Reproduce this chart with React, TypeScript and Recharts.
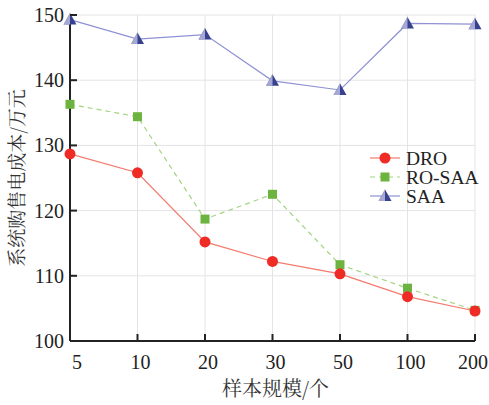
import { CartesianGrid, Legend, Line, LineChart, XAxis, YAxis } from 'recharts'

const sampleSizes = ['5', '10', '20', '30', '50', '100', '200']
const droCost = [128.7, 125.8, 115.2, 112.2, 110.3, 106.8, 104.6]
const roSaaCost = [136.3, 134.4, 118.7, 122.5, 111.7, 108.1, 104.7]
const saaCost = [149.3, 146.3, 147.0, 139.9, 138.5, 148.7, 148.6]
const yTicks = [100, 110, 120, 130, 140, 150]

const data = sampleSizes.map((n, i) => ({
    n,
    DRO: droCost[i],
    'RO-SAA': roSaaCost[i],
    SAA: saaCost[i],
}))

const SERIF = '"Liberation Serif", "DejaVu Serif", serif'
const CJK = '"Noto Serif CJK SC", "Noto Sans CJK SC", serif'

const COLORS = {
    dro: '#ee2b24',
    droLine: '#f47a6c',
    roSaa: '#6cb43f',
    roSaaLine: '#a3d483',
    saa: '#37418f',
    saaLine: '#8e92d2',
}

const Circle = (props: any) => {
    const { cx, cy } = props
    if (cx == null || cy == null) return null
    return <circle cx={cx} cy={cy} r={5.5} fill={COLORS.dro} />
}

const Square = (props: any) => {
    const { cx, cy } = props
    if (cx == null || cy == null) return null
    return <rect x={cx - 4.5} y={cy - 4.5} width={9} height={9} fill={COLORS.roSaa} />
}

const Triangle = (props: any) => {
    const { cx, cy } = props
    if (cx == null || cy == null) return null
    return (
        <g>
            <path d={`M${cx},${cy - 6.5} L${cx + 6.5},${cy + 5} L${cx - 6.5},${cy + 5} Z`} fill={COLORS.saa} />
            <path d={`M${cx},${cy - 6.5} L${cx},${cy + 5} L${cx - 6.5},${cy + 5} Z`} fill="#c9cbe8" opacity={0.75} />
        </g>
    )
}

const YTick = (props: any) => {
    const { x, y, payload } = props
    return (
        <g>
            <line x1={x} x2={x + 7} y1={y} y2={y} stroke="#222" strokeWidth={2} />
            <text x={x - 6} y={y} dy={7} textAnchor="end" style={{ fontFamily: SERIF, fontSize: 20 }} fill="#222">
                {payload.value}
            </text>
        </g>
    )
}

const XTick = (props: any) => {
    const { x, y, payload, index } = props
    // first label nudged right, last one pulled in so it stays on the page
    const shift = index === 0 ? 7 : index === sampleSizes.length - 1 ? -2 : 3
    return (
        <g>
            <line x1={x} x2={x} y1={y} y2={y - 7} stroke="#222" strokeWidth={2} />
            <text x={x + shift} y={y + 28} textAnchor="middle" style={{ fontFamily: SERIF, fontSize: 20 }} fill="#222">
                {payload.value}
            </text>
        </g>
    )
}

const YLabel = (props: any) => {
    const { viewBox } = props
    const x = viewBox.x + 17
    const y = viewBox.y + viewBox.height / 2
    return (
        <text x={x} y={y} transform={`rotate(-90 ${x} ${y})`} textAnchor="middle" dy={7} style={{ fontFamily: CJK, fontSize: 19 }} fill="#333">
            系统购售电成本/万元
        </text>
    )
}

const XLabel = (props: any) => {
    const { viewBox } = props
    const x = viewBox.x + viewBox.width / 2 + 3
    return (
        <text x={x} y={396} textAnchor="middle" style={{ fontFamily: CJK, fontSize: 20 }} fill="#333">
            样本规模/个
        </text>
    )
}

const legendRows = [
    { name: 'DRO', color: COLORS.droLine, dash: undefined, Mark: Circle },
    { name: 'RO-SAA', color: COLORS.roSaaLine, dash: '5 4', Mark: Square },
    { name: 'SAA', color: COLORS.saaLine, dash: undefined, Mark: Triangle },
]

const LegendBox = () => (
    <svg width={120} height={60} style={{ display: 'block' }}>
        {legendRows.map((r, i) => {
            const y = 10 + i * 19
            return (
                <g key={r.name}>
                    <line x1={4} x2={34} y1={y} y2={y} stroke={r.color} strokeWidth={1.2} strokeDasharray={r.dash} />
                    <r.Mark cx={19} cy={y} />
                    <text x={40} y={y} dy={6.5} style={{ fontFamily: SERIF, fontSize: 19.5 }} fill="#222">
                        {r.name}
                    </text>
                </g>
            )
        })}
    </svg>
)

export default function App() {
    return (
        <div style={{ position: 'absolute', left: 0, top: 0, width: 489, height: 405, background: '#fff' }}>
            <LineChart width={489} height={405} data={data} margin={{ top: 15, right: 14, bottom: 0, left: 0 }}>
                <CartesianGrid stroke="#e4e4e8" strokeWidth={1} />
                <XAxis
                    dataKey="n"
                    height={64}
                    tickSize={0}
                    tickMargin={0}
                    tickLine={false}
                    axisLine={{ stroke: '#222', strokeWidth: 2 }}
                    tick={<XTick />}
                    interval={0}
                    label={<XLabel />}
                />
                <YAxis
                    domain={[100, 150]}
                    ticks={yTicks}
                    width={70}
                    tickSize={0}
                    tickMargin={0}
                    tickLine={false}
                    axisLine={{ stroke: '#222', strokeWidth: 2 }}
                    tick={<YTick />}
                    label={<YLabel />}
                />
                <Legend
                    layout="vertical"
                    align="center"
                    verticalAlign="middle"
                    content={<LegendBox />}
                    wrapperStyle={{ left: 366, top: 148, width: 120, height: 60 }}
                />
                <Line type="linear" dataKey="SAA" stroke={COLORS.saaLine} strokeWidth={1.2} dot={<Triangle />} activeDot={false} isAnimationActive={false} />
                <Line type="linear" dataKey="RO-SAA" stroke={COLORS.roSaaLine} strokeWidth={1.2} strokeDasharray="5 4" dot={<Square />} activeDot={false} isAnimationActive={false} />
                <Line type="linear" dataKey="DRO" stroke={COLORS.droLine} strokeWidth={1.2} dot={<Circle />} activeDot={false} isAnimationActive={false} />
            </LineChart>
        </div>
    )
}
